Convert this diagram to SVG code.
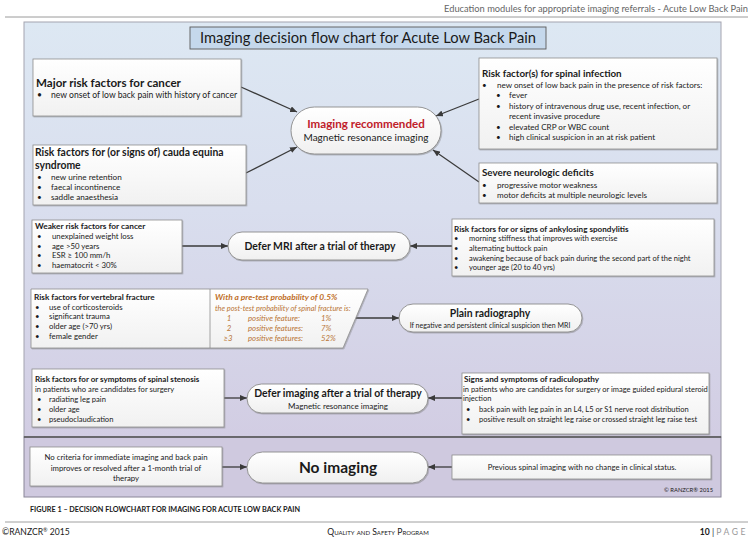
<svg xmlns="http://www.w3.org/2000/svg" width="753" height="539" viewBox="0 0 753 539">
<defs>
<style>
.t{font-family:Lato,'Liberation Sans',sans-serif;fill:#1a1a1a}
.b{font-weight:bold}
.box{fill:url(#boxg);stroke:#8e8e8e;stroke-width:0.8;filter:url(#sh)}
.stad{fill:url(#stg);stroke:#8a8a8a;stroke-width:0.9;filter:url(#sh)}
.con{stroke:#3a3a3a;stroke-width:1.3;fill:none;marker-end:url(#ah)}
.or{fill:#b8702c;font-style:italic}
</style>
<linearGradient id="panel" x1="0" y1="0" x2="0" y2="1">
<stop offset="0" stop-color="#dde8f3"/>
<stop offset="0.45" stop-color="#d9deee"/>
<stop offset="1" stop-color="#d2cde3"/>
</linearGradient>
<linearGradient id="boxg" x1="0" y1="0" x2="0" y2="1">
<stop offset="0" stop-color="#ffffff"/>
<stop offset="1" stop-color="#f1f1f1"/>
</linearGradient>
<linearGradient id="stg" x1="0" y1="0" x2="0" y2="1">
<stop offset="0" stop-color="#ffffff"/>
<stop offset="1" stop-color="#f0f0f0"/>
</linearGradient>
<filter id="sh" x="-5%" y="-5%" width="110%" height="120%">
<feDropShadow dx="0.8" dy="1" stdDeviation="0.7" flood-color="#777" flood-opacity="0.45"/>
</filter>
<marker id="ah" markerUnits="userSpaceOnUse" markerWidth="7" markerHeight="6" refX="7" refY="3" orient="auto">
<path d="M0,0 L7,3 L0,6 z" fill="#3a3a3a"/>
</marker>
</defs>

<rect width="753" height="539" fill="#ffffff"/>

<g id="header">
<text class="t" x="748" y="12" font-size="9.3" text-anchor="end" style="fill:#666">Education modules for appropriate imaging referrals - Acute Low Back Pain</text>
<line x1="5" y1="17" x2="748" y2="17" stroke="#9a9a9a" stroke-width="1"/>
</g>

<g id="panel">
<rect x="24" y="22" width="697" height="415" fill="url(#panel)" stroke="#a4a4b0" stroke-width="1"/>
<rect x="24" y="437" width="697" height="60" fill="#cfc9df" stroke="#8a8698" stroke-width="1"/>
<line x1="24" y1="437" x2="721" y2="437" stroke="#555" stroke-width="1.6"/>
</g>

<g id="title">
<rect x="190" y="27" width="356" height="22" fill="#c5d8ec" stroke="#5a5a5a" stroke-width="0.9"/>
<text class="t" x="368" y="43" font-size="15" text-anchor="middle" textLength="336" lengthAdjust="spacingAndGlyphs">Imaging decision flow chart for Acute Low Back Pain</text>
</g>

<g id="connectors">
<line class="con" x1="241" y1="87" x2="297" y2="112"/>
<line class="con" x1="246" y1="173" x2="297" y2="147"/>
<line class="con" x1="479" y1="99" x2="436" y2="116"/>
<line class="con" x1="479" y1="182" x2="433" y2="150"/>
<line class="con" x1="182" y1="246" x2="228" y2="246"/>
<line class="con" x1="452" y1="246" x2="410" y2="246"/>
<line class="con" x1="356" y1="318" x2="399" y2="318"/>
<line class="con" x1="224" y1="398" x2="247" y2="398"/>
<line class="con" x1="462" y1="398" x2="428" y2="398"/>
<line class="con" x1="222" y1="467" x2="247" y2="467"/>
<line class="con" x1="452" y1="467" x2="428" y2="467"/>
</g>

<g id="major-cancer">
<rect class="box" x="33" y="59" width="208" height="57"/>
<text class="t b" x="36" y="87" font-size="11.6">Major risk factors for cancer</text>
<text class="t" x="37" y="98" font-size="8.6">•</text>
<text class="t" x="51" y="98" font-size="8.6">new onset of low back pain with history of cancer</text>
</g>

<g id="cauda-equina">
<rect class="box" x="33" y="145" width="213" height="60"/>
<text class="t b" x="35" y="156" font-size="10.4">Risk factors for (or signs of) cauda equina</text>
<text class="t b" x="35" y="169" font-size="10.4">syndrome</text>
<text class="t" font-size="8.2"><tspan x="37" y="180">•</tspan><tspan x="51" y="180">new urine retention</tspan><tspan x="37" y="190">•</tspan><tspan x="51" y="190">faecal incontinence</tspan><tspan x="37" y="200">•</tspan><tspan x="51" y="200">saddle anaesthesia</tspan></text>
</g>

<g id="spinal-infection">
<rect class="box" x="479" y="58" width="238" height="91"/>
<text class="t b" x="482" y="77" font-size="9.8">Risk factor(s) for spinal infection</text>
<text class="t" font-size="8.1"><tspan x="482" y="88">•</tspan><tspan x="497" y="88">new onset of low back pain in the presence of risk factors:</tspan><tspan x="496" y="98">•</tspan><tspan x="509" y="98">fever</tspan><tspan x="496" y="108.5">•</tspan><tspan x="509" y="108.5">history of intravenous drug use, recent infection, or</tspan><tspan x="509" y="119">recent invasive procedure</tspan><tspan x="496" y="129.5">•</tspan><tspan x="509" y="129.5">elevated CRP or WBC count</tspan><tspan x="496" y="140">•</tspan><tspan x="509" y="140">high clinical suspicion in an at risk patient</tspan></text>
</g>

<g id="severe-neurologic">
<rect class="box" x="479" y="163" width="238" height="40"/>
<text class="t b" x="482" y="176" font-size="9.8">Severe neurologic deficits</text>
<text class="t" font-size="8.1"><tspan x="482" y="188">•</tspan><tspan x="497" y="188">progressive motor weakness</tspan><tspan x="482" y="198">•</tspan><tspan x="497" y="198">motor deficits at multiple neurologic levels</tspan></text>
</g>

<g id="imaging-recommended">
<rect class="stad" x="291" y="107" width="150" height="47" rx="23.5"/>
<text class="t b" x="366" y="128" font-size="11.6" text-anchor="middle" style="fill:#c0202a">Imaging recommended</text>
<text class="t" x="366" y="141" font-size="10" text-anchor="middle">Magnetic resonance imaging</text>
</g>

<g id="weaker-cancer">
<rect class="box" x="32" y="220" width="150" height="53"/>
<text class="t b" x="35" y="229" font-size="8.3">Weaker risk factors for cancer</text>
<text class="t" font-size="7.8"><tspan x="37" y="239">•</tspan><tspan x="52" y="239">unexplained weight loss</tspan><tspan x="37" y="248.5">•</tspan><tspan x="52" y="248.5">age &gt;50 years</tspan><tspan x="37" y="258">•</tspan><tspan x="52" y="258">ESR ≥ 100 mm/h</tspan><tspan x="37" y="267.5">•</tspan><tspan x="52" y="267.5">haematocrit &lt; 30%</tspan></text>
</g>

<g id="defer-mri">
<rect class="stad" x="228" y="232" width="182" height="28" rx="14"/>
<text class="t b" x="320" y="250" font-size="10.4" text-anchor="middle">Defer MRI after a trial of therapy</text>
</g>

<g id="ankylosing-spondylitis">
<rect class="box" x="452" y="219" width="262" height="57"/>
<text class="t b" x="454" y="231.5" font-size="8.1">Risk factors for or signs of ankylosing spondylitis</text>
<text class="t" font-size="7.5"><tspan x="454" y="241">•</tspan><tspan x="469" y="241">morning stiffness that improves with exercise</tspan><tspan x="454" y="251">•</tspan><tspan x="469" y="251">alternating buttock pain</tspan><tspan x="454" y="260.5">•</tspan><tspan x="469" y="260.5">awakening because of back pain during the second part of the night</tspan><tspan x="454" y="269.5">•</tspan><tspan x="469" y="269.5">younger age (20 to 40 yrs)</tspan></text>
</g>

<g id="vertebral-fracture">
<polygon points="31,289 368,289 343,348 31,348" fill="url(#boxg)" stroke="#8e8e8e" stroke-width="0.8" filter="url(#sh)"/>
<line x1="210" y1="289" x2="210" y2="348" stroke="#8e8e8e" stroke-width="0.8"/>
<text class="t b" x="34" y="299.5" font-size="8.2">Risk factors for vertebral fracture</text>
<text class="t" font-size="7.8"><tspan x="35" y="309.5">•</tspan><tspan x="49" y="309.5">use of corticosteroids</tspan><tspan x="35" y="319">•</tspan><tspan x="49" y="319">significant trauma</tspan><tspan x="35" y="329">•</tspan><tspan x="49" y="329">older age (&gt;70 yrs)</tspan><tspan x="35" y="338.5">•</tspan><tspan x="49" y="338.5">female gender</tspan></text>
<text class="t b or" x="215" y="299.5" font-size="8.4" style="fill:#bf6f28">With a pre-test probability of 0.5%</text>
<text class="t or" x="215" y="310.5" font-size="7.4" style="fill:#b97434">the post-test probability of spinal fracture is:</text>
<g class="t or" font-size="7.8">
<text x="229" y="320.5" text-anchor="middle" style="fill:#b97434">1</text>
<text x="248" y="320.5" style="fill:#b97434">positive feature:</text>
<text x="321" y="320.5" style="fill:#b97434">1%</text>
<text x="229" y="330.5" text-anchor="middle" style="fill:#b97434">2</text>
<text x="248" y="330.5" style="fill:#b97434">positive features:</text>
<text x="321" y="330.5" style="fill:#b97434">7%</text>
<text x="228" y="341" text-anchor="middle" style="fill:#b97434">≥3</text>
<text x="248" y="341" style="fill:#b97434">positive features:</text>
<text x="321" y="341" style="fill:#b97434">52%</text>
</g>
</g>

<g id="plain-radiography">
<rect class="stad" x="399" y="304" width="183" height="28" rx="14"/>
<text class="t b" x="490" y="317" font-size="10.4" text-anchor="middle">Plain radiography</text>
<text class="t" x="490" y="327.5" font-size="7" text-anchor="middle">If negative and persistent clinical suspicion then MRI</text>
</g>

<g id="spinal-stenosis">
<rect class="box" x="32" y="369" width="192" height="58"/>
<text class="t b" x="35" y="382" font-size="8">Risk factors for or symptoms of spinal stenosis</text>
<text class="t" font-size="7.6"><tspan x="35" y="392">in patients who are candidates for surgery</tspan><tspan x="37" y="402">•</tspan><tspan x="49" y="402">radiating leg pain</tspan><tspan x="37" y="412">•</tspan><tspan x="49" y="412">older age</tspan><tspan x="37" y="421.5">•</tspan><tspan x="49" y="421.5">pseudoclaudication</tspan></text>
</g>

<g id="defer-imaging">
<rect class="stad" x="247" y="384" width="181" height="29" rx="14.5"/>
<text class="t b" x="338" y="397" font-size="10.4" text-anchor="middle">Defer imaging after a trial of therapy</text>
<text class="t" x="338" y="408.5" font-size="8" text-anchor="middle">Magnetic resonance imaging</text>
</g>

<g id="radiculopathy">
<rect class="box" x="462" y="373" width="247" height="61"/>
<text class="t b" x="464" y="382" font-size="8.2">Signs and symptoms of radiculopathy</text>
<text class="t" font-size="7.5"><tspan x="463" y="391.5">in patients who are candidates for surgery or image guided epidural steroid</tspan><tspan x="463" y="401">injection</tspan><tspan x="466" y="411.5">•</tspan><tspan x="479" y="411.5">back pain with leg pain in an L4, L5 or S1 nerve root distribution</tspan><tspan x="466" y="422">•</tspan><tspan x="479" y="422">positive result on straight leg raise or crossed straight leg raise test</tspan></text>
</g>

<g id="no-criteria">
<rect class="box" x="30" y="447" width="192" height="39"/>
<text class="t" font-size="7.8" text-anchor="middle"><tspan x="126" y="460">No criteria for immediate imaging and back pain</tspan><tspan x="126" y="470.5">improves or resolved after a 1-month trial of</tspan><tspan x="126" y="481">therapy</tspan></text>
</g>

<g id="no-imaging">
<rect class="stad" x="247" y="452" width="181" height="31" rx="15.5"/>
<text class="t b" x="338" y="473" font-size="15.5" text-anchor="middle">No imaging</text>
</g>

<g id="previous-imaging">
<rect class="box" x="452" y="455" width="259" height="24"/>
<text class="t" x="582" y="470" font-size="7.7" text-anchor="middle">Previous spinal imaging with no change in clinical status.</text>
</g>

<g id="panel-copyright">
<text class="t" x="713" y="492" font-size="5.8" text-anchor="end">© RANZCR® 2015</text>
</g>

<g id="caption">
<text class="t b" x="30" y="512" font-size="6.6" textLength="270" lengthAdjust="spacingAndGlyphs">FIGURE 1 – DECISION FLOWCHART FOR IMAGING FOR ACUTE LOW BACK PAIN</text>
</g>

<g id="footer">
<line x1="5" y1="522" x2="748" y2="522" stroke="#a0a0a0" stroke-width="1"/>
<text class="t" x="2" y="535" font-size="8.6">©RANZCR<tspan font-size="5.5" dy="-3">®</tspan><tspan dy="3"> 2015</tspan></text>
<text class="t" x="378" y="535" font-size="8.6" text-anchor="middle" style="font-variant:small-caps">Quality and Safety Program</text>
<text class="t" x="748" y="535" font-size="8.6" text-anchor="end"><tspan font-weight="bold">10</tspan><tspan> | </tspan><tspan style="fill:#999" letter-spacing="2.5">PAGE</tspan></text>
</g>
</svg>
